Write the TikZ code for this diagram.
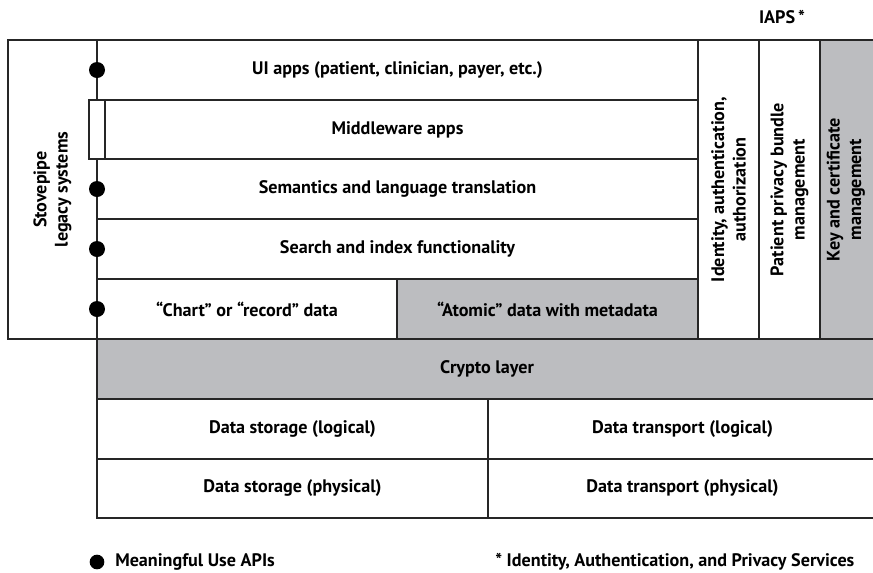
\documentclass[tikz,border=0pt]{standalone}
\usepackage{fontspec}
\setmainfont{PT Sans}
\definecolor{cellgrey}{HTML}{BCBDC0}
\newcommand\cell[7]{\node[cellbox, fill=#6, anchor=north west,
  minimum width={(#4-#2)*0.75pt}, minimum height={(#5-#3)*0.75pt}] (#1) at (#2,#3) {#7};}
\begin{document}
\begin{tikzpicture}[x=0.75pt,y=-0.75pt,
  cellbox/.style={draw=black!85, line width=1.1pt, inner sep=0pt, outer sep=0pt, font=\lbl},
  rot/.style={rotate=90, align=center, font=\lbl},
  apidot/.style={circle, fill=black, inner sep=0pt, minimum size=12pt},
  txt/.style={font=\lbl, inner sep=0pt}]
\newcommand\lbl{\fontsize{13.6}{16}\selectfont\bfseries}
\useasboundingbox (0,0) rectangle (873,572);
\fill[white] (0,0) rectangle (873,572);
% left block
\cell{stove}{8}{40}{97}{339}{white}{}
\node[rot] (stovet) at (stove.center) {Stovepipe\\legacy systems};
\cell{ui}{97}{40}{698}{100}{white}{UI apps (patient, clinician, payer, etc.)}
\cell{mw}{97}{100}{698}{159}{white}{Middleware apps}
\cell{sem}{97}{159}{698}{219}{white}{Semantics and language translation}
\cell{search}{97}{219}{698}{279}{white}{Search and index functionality}
\cell{chart}{97}{279}{397}{339}{white}{“Chart” or “record” data}
\cell{atomic}{397}{279}{698}{339}{cellgrey}{“Atomic” data with metadata}
\cell{mwtab}{89}{100}{105}{159}{white}{}
% IAPS columns
\cell{iaa}{698}{40}{759}{339}{white}{}
\node[rot] (iaat) at (iaa.center) {Identity, authentication,\\authorization};
\cell{ppb}{759}{40}{820}{339}{white}{}
\node[rot] (ppbt) at (ppb.center) {Patient privacy bundle\\management};
\cell{key}{820}{40}{877}{339}{cellgrey}{}
\node[rot] (keyt) at ([xshift=-2pt]key.center) {Key and certificate\\management};
\node[txt] (iaps) at (782,17) {IAPS\,*};
% lower layers
\cell{crypto}{97}{339}{877}{399}{cellgrey}{Crypto layer}
\cell{dsl}{97}{399}{488}{459}{white}{Data storage (logical)}
\cell{dtl}{488}{399}{877}{459}{white}{Data transport (logical)}
\cell{dsp}{97}{459}{488}{518}{white}{Data storage (physical)}
\cell{dtp}{488}{459}{877}{518}{white}{Data transport (physical)}
% API dots
\node[apidot] (d1) at (97,70) {};
\node[apidot] (d2) at (97,189) {};
\node[apidot] (d3) at (97,249) {};
\node[apidot] (d4) at (97,309) {};
% legend
\node[apidot, minimum size=11pt] (ldot) at (97,562) {};
\node[txt, anchor=west] (ltext) at (115,562) {Meaningful Use APIs};
\node[txt, anchor=west] (lnote) at (495,562) {* Identity, Authentication, and Privacy Services};
\end{tikzpicture}
\end{document}
